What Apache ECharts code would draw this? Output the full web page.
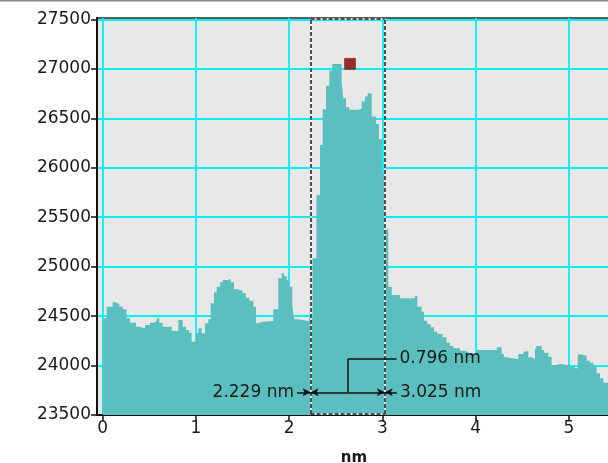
<!DOCTYPE html>
<html><head><meta charset="utf-8">
<script src="https://cdn.jsdelivr.net/npm/echarts@6/dist/echarts.min.js"></script>
<style>html,body{margin:0;padding:0;background:#fff}#c{width:608px;height:463px}</style>
</head><body><div id="c"></div>
<script>
// profile samples (step starts): x in nm, height values
const profileX = [0, 0.043, 0.107, 0.132, 0.178, 0.214, 0.257, 0.293, 0.357, 0.392, 0.454, 0.507, 0.550, 0.579, 0.607, 0.643, 0.740, 0.811, 0.858, 0.893, 0.928, 0.954, 1.000, 1.025, 1.061, 1.097, 1.132, 1.158, 1.193, 1.222, 1.258, 1.287, 1.336, 1.372, 1.408, 1.454, 1.501, 1.536, 1.572, 1.615, 1.644, 1.668, 1.715, 1.829, 1.883, 1.919, 1.944, 1.973, 2.001, 2.033, 2.051, 2.080, 2.212, 2.249, 2.292, 2.330, 2.359, 2.394, 2.430, 2.462, 2.562, 2.580, 2.609, 2.644, 2.740, 2.777, 2.812, 2.841, 2.884, 2.930, 2.962, 2.995, 3.027, 3.062, 3.099, 3.188, 3.348, 3.373, 3.420, 3.445, 3.480, 3.517, 3.552, 3.587, 3.645, 3.688, 3.724, 3.759, 3.831, 3.884, 3.931, 4.010, 4.224, 4.278, 4.302, 4.332, 4.456, 4.510, 4.538, 4.563, 4.600, 4.635, 4.653, 4.707, 4.731, 4.778, 4.814, 4.868, 4.903, 4.981, 5.010, 5.039, 5.064, 5.093, 5.136, 5.189, 5.225, 5.260, 5.296, 5.332, 5.367, 5.450];
const profileY = [24478, 24595, 24640, 24623, 24595, 24569, 24478, 24433, 24393, 24377, 24410, 24433, 24450, 24478, 24433, 24393, 24349, 24461, 24393, 24359, 24332, 24241, 24332, 24377, 24326, 24427, 24468, 24630, 24741, 24798, 24842, 24865, 24876, 24842, 24771, 24754, 24731, 24686, 24656, 24595, 24427, 24443, 24450, 24569, 24883, 24933, 24906, 24865, 24798, 24612, 24468, 24450, 24484, 25085, 25726, 26232, 26593, 26829, 26984, 27051, 26862, 26704, 26613, 26586, 26596, 26670, 26720, 26755, 26518, 26444, 26289, 25938, 25378, 24798, 24714, 24680, 24705, 24595, 24545, 24454, 24417, 24387, 24342, 24319, 24286, 24231, 24197, 24174, 24150, 24130, 24117, 24157, 24184, 24117, 24083, 24063, 24117, 24140, 24150, 24083, 24063, 24157, 24197, 24157, 24130, 24089, 24005, 24015, 24005, 24022, 23988, 23995, 23972, 24113, 24096, 24049, 24028, 23995, 23921, 23871, 23826, 23826];
const xTicks = [0, 1, 2, 3, 4, 5];
const yTicks = [23500, 24000, 24500, 25000, 25500, 26000, 26500, 27000, 27500];
const xRange = [-0.061, 5.45];
const yRange = [23500, 27515];
// cursors / annotation (data units)
const cursorLeft = 2.229, cursorRight = 3.025;
const cursorWidthText = '0.796 nm';
const cursorLeftText = '2.229 nm';
const cursorRightText = '3.025 nm';
const rectBottom = 23510, rectTop = 27508;
const measureY = 23729, widthLabelY = 24066;
const measureMidX = 2.63, widthLabelEndX = 3.15;
const leftLabelX = 2.083, rightLabelX = 3.155;
const peakMarker = [2.652, 27051];

const font = 'DejaVu Sans';
const txt = '#1a1a1a';

const chart = echarts.init(document.getElementById('c'), null, {renderer: 'canvas'});

function seg(a, b, style) {
  return [{coord: a, lineStyle: style}, {coord: b}];
}
const white = {color: '#ffffff', width: 1.5, type: 'solid'};
const dash = {color: '#1a1a1a', width: 1.5, type: [4, 2]};
const ann = {color: '#111111', width: 1.5, type: 'solid'};

const rectWhite = [
  seg([cursorLeft, rectBottom], [cursorLeft, rectTop], white),
  seg([cursorRight, rectBottom], [cursorRight, rectTop], white),
  seg([cursorLeft, rectTop], [cursorRight, rectTop], white),
  seg([cursorLeft, rectBottom], [cursorRight, rectBottom], white)
];
const rectDash = [
  seg([cursorLeft, rectBottom], [cursorLeft, rectTop], dash),
  seg([cursorRight, rectBottom], [cursorRight, rectTop], dash),
  seg([cursorLeft, rectTop], [cursorRight, rectTop], dash),
  seg([cursorLeft, rectBottom], [cursorRight, rectBottom], dash)
];
const lbl = (text, pos) => ({show: true, position: pos, formatter: text, color: txt, fontFamily: font, fontSize: 17, distance: 3});
const annLines = [
  [{coord: [cursorLeft, measureY], lineStyle: ann, symbol: 'arrow'}, {coord: [cursorRight, measureY], symbol: 'arrow'}],
  [{coord: [leftLabelX, measureY], lineStyle: ann, symbol: 'none', label: lbl(cursorLeftText, 'start')}, {coord: [cursorLeft, measureY], symbol: 'arrow'}],
  [{coord: [rightLabelX, measureY], lineStyle: ann, symbol: 'none', label: lbl(cursorRightText, 'start')}, {coord: [cursorRight, measureY], symbol: 'arrow'}],
  [{coord: [measureMidX, measureY], lineStyle: ann, symbol: 'none'}, {coord: [measureMidX, widthLabelY], symbol: 'none'}],
  [{coord: [measureMidX, widthLabelY], lineStyle: ann, symbol: 'none', label: lbl(cursorWidthText, 'end')}, {coord: [widthLabelEndX, widthLabelY], symbol: 'none'}]
];

chart.setOption({
  animation: false,
  backgroundColor: '#ffffff',
  graphic: [{type: 'rect', shape: {x: 0, y: 0, width: 608, height: 1.5}, style: {fill: '#888'}, silent: true}],
  grid: {left: 97, right: -3, top: 18, bottom: 48, show: true, backgroundColor: '#e8e8e8', borderColor: '#2a2a2a', borderWidth: 1.5, containLabel: false, outerBoundsMode: 'none'},
  xAxis: {
    type: 'value', min: xRange[0], max: xRange[1],
    name: 'nm', nameLocation: 'middle', nameGap: 36,
    nameTextStyle: {fontFamily: font, fontSize: 15, fontWeight: 'bold', color: txt},
    axisLine: {show: true, onZero: false, lineStyle: {color: '#111', width: 2}},
    axisTick: {show: true, length: 6, customValues: xTicks, lineStyle: {color: '#111', width: 1.5}},
    axisLabel: {customValues: xTicks, color: txt, fontFamily: font, fontSize: 17, margin: 5, formatter: v => String(v)},
    splitLine: {show: true, lineStyle: {color: '#00f2f2', width: 1.8}}
  },
  yAxis: {
    type: 'value', min: yRange[0], max: yRange[1],
    axisLine: {show: true, onZero: false, lineStyle: {color: '#111', width: 2}},
    axisTick: {show: true, length: 6, customValues: yTicks, lineStyle: {color: '#111', width: 1.5}},
    axisLabel: {customValues: yTicks, color: txt, fontFamily: font, fontSize: 17, margin: 6, formatter: v => String(v)},
    splitLine: {show: true, lineStyle: {color: '#00f2f2', width: 1.8}}
  },
  series: [
    {
      type: 'line', step: 'end', showSymbol: false, silent: true, z: 2,
      data: profileX.map((x, i) => [x, profileY[i]]),
      lineStyle: {width: 0, color: '#5cbfbf'},
      areaStyle: {color: '#5cbfbf', opacity: 1, origin: 'start'}
    },
    {
      type: 'line', data: [], z: 4, silent: true,
      markLine: {silent: true, animation: false, symbol: 'none', label: {show: false}, data: rectWhite}
    },
    {
      type: 'line', data: [], z: 5, silent: true,
      markLine: {silent: true, animation: false, symbol: 'none', symbolSize: [6, 8], label: {show: false}, data: rectDash.concat(annLines)}
    },
    {
      type: 'scatter', z: 6, silent: true, symbol: 'rect', symbolSize: 11,
      data: [peakMarker],
      itemStyle: {color: '#7a0000', borderColor: '#b03030', borderWidth: 1}
    }
  ]
});
</script></body></html>
